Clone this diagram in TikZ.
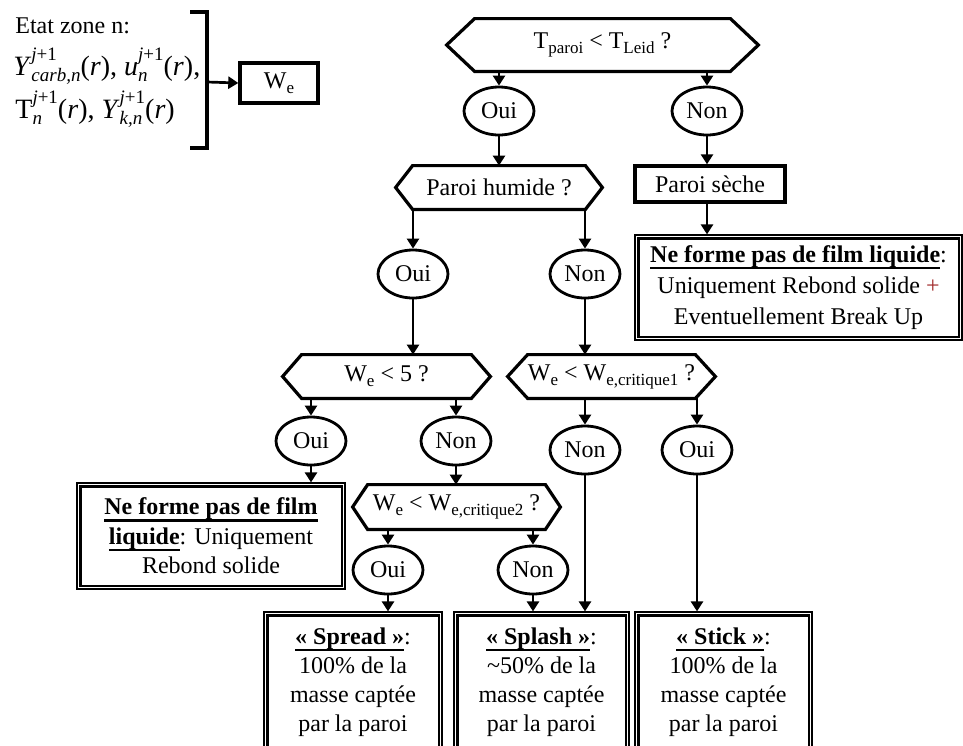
\documentclass[tikz,border=0pt]{standalone}
\usepackage{fontspec}
\setmainfont{Liberation Serif}
\usetikzlibrary{shapes.geometric,arrows.meta}

% lowered index in text (W_e, T_paroi ...)
\newcommand\lowtxt[1]{\raisebox{-2.6pt}{\fontsize{8.5}{9}\selectfont #1}}
% stacked superscript / subscript pair
\newcommand\supsub[2]{\setbox2\hbox{\fontsize{9.5}{10}\selectfont #1}%
  \setbox4\hbox{\fontsize{9.5}{10}\selectfont #2}%
  \dimen2=\wd2 \ifdim\wd4>\dimen2 \dimen2=\wd4 \fi
  \rlap{\raise7.5pt\box2}\rlap{\lower3pt\box4}\kern\dimen2\relax}
% heavy underline
\newcommand\thickul[1]{\setbox0\hbox{#1}\rlap{\rule[-3.4pt]{\wd0}{1.1pt}}\box0}

\definecolor{plusred}{HTML}{A02828}

\tikzset{
  txt/.style={font=\fontsize{12}{15}\selectfont, inner sep=0pt},
  hexnode/.style={txt, shape=rectangle, minimum height=#1},
  hexline/.style={line width=1.6pt, line join=miter},
  choice/.style={txt, ellipse, draw, line width=1.4pt, minimum width=35pt, minimum height=24pt},
  plainbox/.style={txt, rectangle, draw, line width=1.7pt},
  dbox/.style={txt, rectangle, draw, line width=0.6pt, align=center},
  arr/.style={line width=1.35pt, -{Triangle[width=6pt,length=5pt]}},
}
% hexagonal outline around a named node, #2 = chamfer
\newcommand\hexframe[2]{\draw[hexline] (#1.west) -- ([shift={(#2,0)}]#1.north west)
  -- ([shift={(-#2,0)}]#1.north east) -- (#1.east) -- ([shift={(-#2,0)}]#1.south east)
  -- ([shift={(#2,0)}]#1.south west) -- cycle;}
% inner heavier line of a double frame
\newcommand\innerframe[1]{\draw[line width=1.1pt] ([shift={(4,4)}]#1.north west) rectangle ([shift={(-4,-4)}]#1.south east);}

\begin{document}
\begin{tikzpicture}[x=0.5pt,y=-0.5pt]
\useasboundingbox (0,0) rectangle (963,745);
\clip (0,0) rectangle (963,745);

% --- state of zone n and Weber number
\node[txt, anchor=base west] (etat) at (15,33) {Etat zone n:};
\node[txt, anchor=base west, font=\fontsize{14}{16}\selectfont] (vars1) at (13,75)
  {\textit{Y}\supsub{\textit{j}+1}{\textit{carb,n}}(\textit{r}),\ \textit{u}\supsub{\textit{j}+1}{\textit{n}}(\textit{r}),};
\node[txt, anchor=base west, font=\fontsize{14}{16}\selectfont] (vars2) at (15,118)
  {T\supsub{\textit{j}+1}{\textit{n}}(\textit{r}),\ \textit{Y}\supsub{\textit{j}+1}{\textit{k,n}}(\textit{r})};
\draw[line width=1.6pt] (190,12) -- (207,12) -- (207,148) -- (190,148);
\coordinate (brk) at (207,82);
\node[plainbox, minimum width=39pt, minimum height=20pt] (we) at (279,83) {W\lowtxt{e}};
\draw[arr] (brk) -- (we.west);

% --- hexagonal tests
\node[hexnode=26pt, minimum width=155.5pt] (hT) at (602.5,45) {T\lowtxt{paroi} < T\lowtxt{Leid} ?};
\node[hexnode=21.5pt, minimum width=103pt] (hPH) at (499,187.5) {Paroi humide ?};
\node[hexnode=21.5pt, minimum width=103.5pt] (hW5) at (386.5,376.5) {W\lowtxt{e} < 5 ?};
\node[hexnode=21.5pt, minimum width=103.5pt] (hC1) at (611.5,376.5) {W\lowtxt{e} < W\lowtxt{e,critique1} ?};
\node[hexnode=22pt, minimum width=103.5pt] (hC2) at (456.5,507) {W\lowtxt{e} < W\lowtxt{e,critique2} ?};
\hexframe{hT}{28}
\hexframe{hPH}{17}
\hexframe{hW5}{19}
\hexframe{hC1}{20}
\hexframe{hC2}{15}

% --- answers
\node[choice] (e1) at (499,111) {Oui};
\node[choice] (e2) at (707,111) {Non};
\node[choice] (e3) at (413,274) {Oui};
\node[choice] (e4) at (585,274) {Non};
\node[choice] (e5) at (311,441) {Oui};
\node[choice] (e6) at (456,441) {Non};
\node[choice] (e7) at (585,450) {Non};
\node[choice] (e8) at (697,450) {Oui};
\node[choice] (e9) at (388,570) {Oui};
\node[choice] (e10) at (533,570) {Non};

% --- outcomes
\node[plainbox, minimum width=75pt, minimum height=18pt] (sec) at (710,184) {Paroi sèche};
\node[dbox, minimum width=163.5pt, minimum height=52.5pt, font=\fontsize{12}{15.5}\selectfont] (dbR) at (798.5,287.5)
  {\thickul{\textbf{Ne forme pas de film liquide}}:\\Uniquement Rebond solide {\color{plusred}+}\\Eventuellement Break Up};
\node[dbox, minimum width=134pt, minimum height=53pt, font=\fontsize{12}{14.8}\selectfont] (dbL) at (211,536)
  {\thickul{\textbf{Ne forme pas de film}}\\\thickul{\textbf{liquide}}: Uniquement\\Rebond solide};
\node[dbox, minimum width=89pt, minimum height=70pt, font=\fontsize{12}{14.5}\selectfont] (bSpread) at (353,682)
  {\thickul{\textbf{« Spread »}}:\\100\% de la\\masse captée\\par la paroi};
\node[dbox, minimum width=87.5pt, minimum height=70pt, font=\fontsize{12}{14.5}\selectfont] (bSplash) at (541.5,682)
  {\thickul{\textbf{« Splash »}}:\\\textasciitilde50\% de la\\masse captée\\par la paroi};
\node[dbox, minimum width=88.5pt, minimum height=70pt, font=\fontsize{12}{14.5}\selectfont] (bStick) at (723.5,682)
  {\thickul{\textbf{« Stick »}}:\\100\% de la\\masse captée\\par la paroi};
\innerframe{dbR}
\innerframe{dbL}
\innerframe{bSpread}
\innerframe{bSplash}
\innerframe{bStick}

% --- connectors
\draw[arr] (e1 |- hT.south) -- (e1.north);
\draw[arr] (e2 |- hT.south) -- (e2.north);
\draw[arr] (e1.south) -- (e1.south |- hPH.north);
\draw[arr] (e2.south) -- (e2.south |- sec.north);
\draw[arr] (e2 |- sec.south) -- (e2 |- dbR.north);
\draw[arr] (e3 |- hPH.south) -- (e3.north);
\draw[arr] (e4 |- hPH.south) -- (e4.north);
\draw[arr] (e3.south) -- (e3.south |- hW5.north);
\draw[arr] (e4.south) -- (e4.south |- hC1.north);
\draw[arr] (e5 |- hW5.south) -- (e5.north);
\draw[arr] (e6 |- hW5.south) -- (e6.north);
\draw[arr] (e7 |- hC1.south) -- (e7.north);
\draw[arr] (e8 |- hC1.south) -- (e8.north);
\draw[arr] (e5.south) -- (e5.south |- dbL.north);
\draw[arr] (e6.south) -- (e6.south |- hC2.north);
\draw[arr] (e9 |- hC2.south) -- (e9.north);
\draw[arr] (e10 |- hC2.south) -- (e10.north);
\draw[arr] (e9.south) -- (e9.south |- bSpread.north);
\draw[arr] (e10.south) -- (e10.south |- bSplash.north);
\draw[arr] (e7.south) -- (e7.south |- bSplash.north);
\draw[arr] (e8.south) -- (e8.south |- bStick.north);
\end{tikzpicture}
\end{document}
